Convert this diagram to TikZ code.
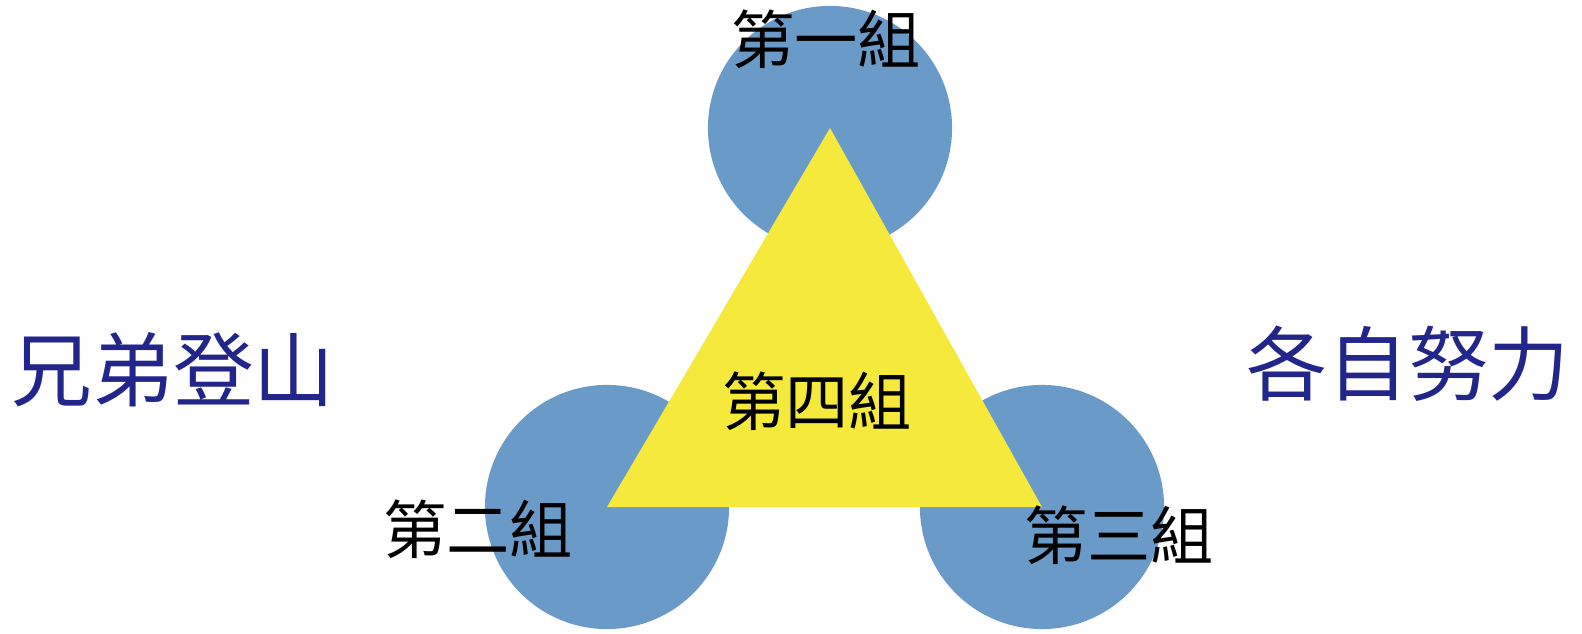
\documentclass[tikz,border=0pt]{standalone}
\usepackage{fontspec}
\newfontfamily\cjk{Noto Sans CJK TC}
\definecolor{groupblue}{HTML}{6A9AC8}
\definecolor{triyellow}{HTML}{F5E93C}
\definecolor{mottonavy}{HTML}{22258A}
\tikzset{
  groupball/.style={circle, fill=groupblue, minimum size=2.44cm, inner sep=0pt},
  grouplabel/.style={font=\cjk\fontsize{18}{18}\selectfont, text=black, inner sep=0pt},
  motto/.style={font=\cjk\fontsize{23}{23}\selectfont, text=mottonavy, inner sep=0pt}
}
\begin{document}
\begin{tikzpicture}[x=0.01cm, y=-0.01cm]

    \useasboundingbox (0,0) rectangle (1582,634);

    %circles:
    \node[groupball] (ball1) at (830,128) {};
    \node[groupball] (ball2) at (607,507) {};
    \node[groupball] (ball3) at (1042,507) {};

    %triangle:
    \fill[triyellow] (ball1.center) -- (ball2.center) -- (ball3.center) -- cycle;

    %labels:
    \node[grouplabel] (g1) at (826,39) {第一組};
    \node[grouplabel] (g2) at (478,529) {第二組};
    \node[grouplabel] (g3) at (1119,535) {第三組};
    \node[grouplabel] (g4) at (817,401) {第四組};

    \node[motto] (left) at (173,370) {兄弟登山};
    \node[motto] (right) at (1408,364) {各自努力};

\end{tikzpicture}
\end{document}
